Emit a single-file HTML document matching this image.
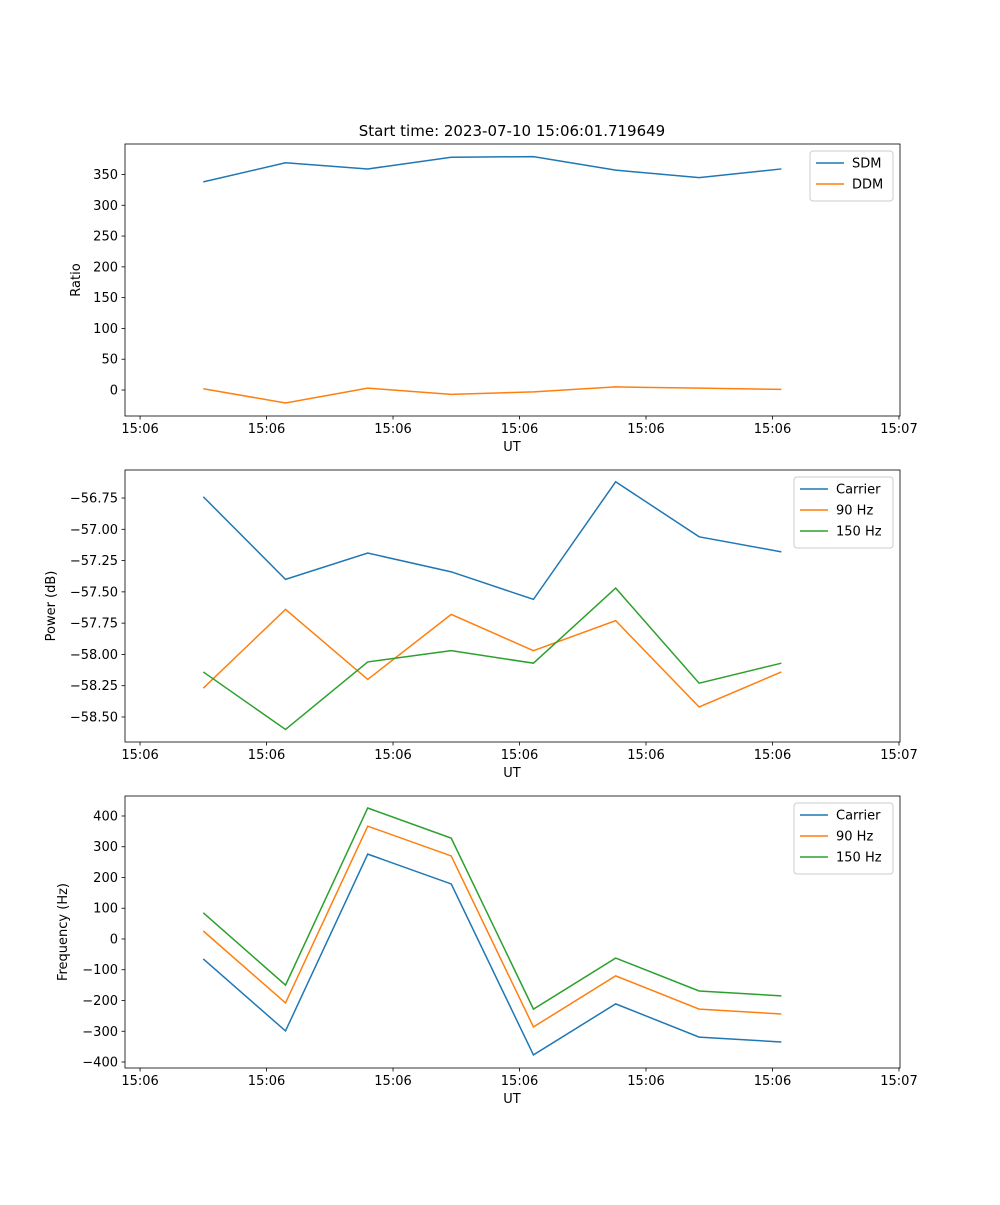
<!DOCTYPE html>
<html><head><meta charset="utf-8"><style>
body{margin:0;background:#fff}
svg text{font-family:"DejaVu Sans","Liberation Sans",sans-serif;fill:#000}
</style></head><body>
<svg id="fig" width="1000" height="1200" xmlns="http://www.w3.org/2000/svg">
<text x="512" y="136" font-size="15" text-anchor="middle">Start time: 2023-07-10 15:06:01.719649</text>
</svg>
<script>
const times=[5.0,11.5,18.0,24.6,31.1,37.6,44.2,50.7];
const xTickVals=[0,10,20,30,40,50,60];
const xTickLabels=["15:06","15:06","15:06","15:06","15:06","15:06","15:07"];
const sdm=[338,369,359,378,379,357,345,359];
const ddm=[2,-21,3,-7,-3,5,3,1];
const pCarrier=[-56.74,-57.40,-57.19,-57.34,-57.56,-56.62,-57.06,-57.18];
const p90=[-58.27,-57.64,-58.20,-57.68,-57.97,-57.73,-58.42,-58.14];
const p150=[-58.14,-58.60,-58.06,-57.97,-58.07,-57.47,-58.23,-58.07];
const fCarrier=[-65,-299,276,179,-377,-211,-319,-335];
const f90=[26,-208,367,270,-286,-120,-228,-244];
const f150=[85,-150,426,328,-228,-62,-169,-185];
const ratioTicks=[0,50,100,150,200,250,300,350];
const powerTicks=[-58.5,-58.25,-58,-57.75,-57.5,-57.25,-57,-56.75];
const powerTickLabels=["\u221258.50","\u221258.25","\u221258.00","\u221257.75","\u221257.50","\u221257.25","\u221257.00","\u221256.75"];
const freqTicks=[-400,-300,-200,-100,0,100,200,300,400];

const NS="http://www.w3.org/2000/svg";
const svg=document.getElementById('fig');
function mk(tag,attrs,parent){const e=document.createElementNS(NS,tag);for(const k in attrs)e.setAttribute(k,attrs[k]);(parent||svg).appendChild(e);return e;}
const L=125,R=900,xmin=-1.19,xmax=60.08;
const xs=v=>L+(v-xmin)/(xmax-xmin)*(R-L);
const colors={blue:"#1f77b4",orange:"#ff7f0e",green:"#2ca02c"};

function panel(name,top,ymin,ymax,yTicks,yLabels,ylabel,ylabelX,series,legend){
  const bot=top+272;
  const g=mk('g',{});
  
  
  const ys=v=>bot-(v-ymin)/(ymax-ymin)*272;
  series.forEach(s=>{
    const pl=mk('polyline',{points:times.map((t,i)=>xs(t)+','+ys(s.vals[i])).join(' '),fill:'none',stroke:s.color,'stroke-width':1.5},g);
    
    
  });
  const fr=mk('rect',{x:L,y:top,width:R-L,height:272,fill:'none',stroke:'#000','stroke-width':0.8},g);
  
  
  xTickVals.forEach((v,i)=>{
    const x=xs(v);
    mk('line',{x1:x,x2:x,y1:bot,y2:bot+3.5,stroke:'#000','stroke-width':0.8},g);
    const t=mk('text',{x:x,y:bot+17,'font-size':13,'text-anchor':'middle'},g);
    t.textContent=xTickLabels[i];
    
    
  });
  yTicks.forEach((v,i)=>{
    const y=ys(v);
    mk('line',{x1:L-3.5,x2:L,y1:y,y2:y,stroke:'#000','stroke-width':0.8},g);
    const t=mk('text',{x:L-7,y:y+4.5,'font-size':13,'text-anchor':'end'},g);
    t.textContent=yLabels[i];
    
    
  });
  const xl=mk('text',{x:512,y:bot+35,'font-size':13,'text-anchor':'middle'},g);
  xl.textContent='UT';
  
  
  const cy=top+136;
  const yl=mk('text',{x:ylabelX,y:cy,'font-size':13,'text-anchor':'middle',transform:`rotate(-90 ${ylabelX} ${cy})`},g);
  yl.textContent=ylabel;
  
  
  // legend
  const lw=legend.w,lx=R-7-lw,ly=top+7,lh=8+series.length*21;
  const lg=mk('g',{},g);
  
  
  mk('rect',{x:lx,y:ly,width:lw,height:lh,rx:3,fill:'#fff','fill-opacity':0.8,stroke:'#ccc'},lg);
  series.forEach((s,i)=>{
    const yy=ly+12+i*21;
    mk('line',{x1:lx+6,x2:lx+34,y1:yy,y2:yy,stroke:s.color,'stroke-width':1.5},lg);
    const t=mk('text',{x:lx+42,y:yy+4.5,'font-size':13},lg);
    t.textContent=s.label;
    
    
  });
}
panel('ratio-panel',144,-42.2,399.5,ratioTicks,ratioTicks.map(String),'Ratio',80,
 [{key:'sdm',label:'SDM',vals:sdm,color:colors.blue},{key:'ddm',label:'DDM',vals:ddm,color:colors.orange}],{w:83});
panel('power-panel',470,-58.70,-56.526,powerTicks,powerTickLabels,'Power (dB)',55,
 [{key:'carrier',label:'Carrier',vals:pCarrier,color:colors.blue},{key:'90hz',label:'90 Hz',vals:p90,color:colors.orange},{key:'150hz',label:'150 Hz',vals:p150,color:colors.green}],{w:99});
panel('frequency-panel',796,-419.5,465,freqTicks,freqTicks.map(v=>v<0?'\u2212'+(-v):String(v)),'Frequency (Hz)',67,
 [{key:'carrier',label:'Carrier',vals:fCarrier,color:colors.blue},{key:'90hz',label:'90 Hz',vals:f90,color:colors.orange},{key:'150hz',label:'150 Hz',vals:f150,color:colors.green}],{w:99});
</script>
</body></html>
